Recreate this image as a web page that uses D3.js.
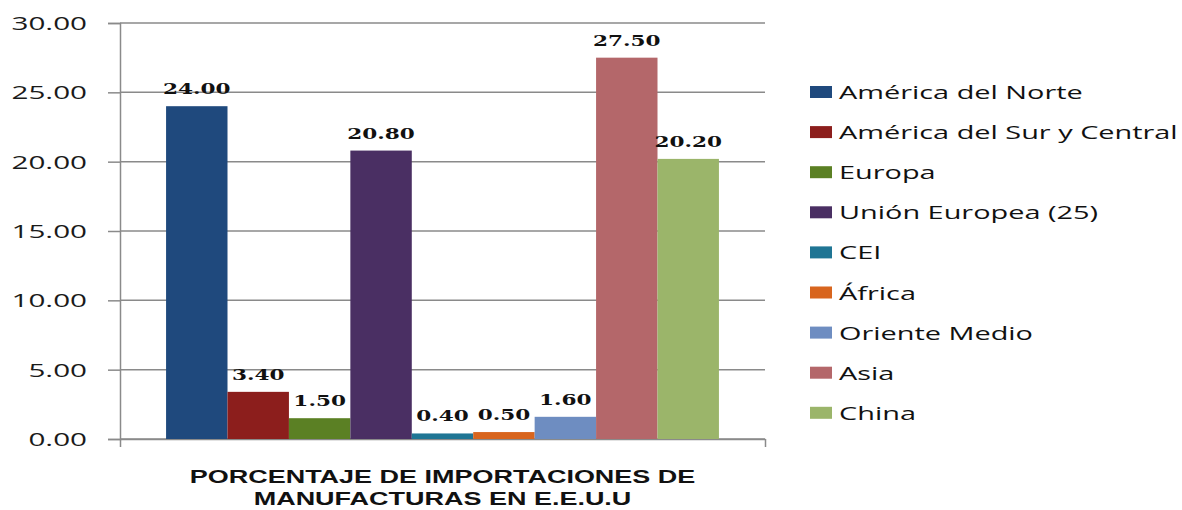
<!DOCTYPE html>
<html>
<head>
<meta charset="utf-8">
<script src="https://cdn.jsdelivr.net/npm/d3@7"></script>
<style>
  body { margin: 0; background: #fff; }
  svg { display: block; }
</style>
</head>
<body>
<script>
// data
const regions = ["América del Norte", "América del Sur y Central", "Europa", "Unión Europea (25)", "CEI", "África", "Oriente Medio", "Asia", "China"];
const values = [24.0, 3.4, 1.5, 20.8, 0.4, 0.5, 1.6, 27.5, 20.2];
const colors = ["#1F497D", "#8C1E1C", "#5B8024", "#4A2F63", "#1F7594", "#D8651E", "#6E8DC1", "#B4676A", "#9BB56A"];
const yTicks = [0, 5, 10, 15, 20, 25, 30];
const categoryLines = ["PORCENTAJE DE IMPORTACIONES DE", "MANUFACTURAS EN E.E.U.U"];

const W = 1182, H = 510;
const plot = {left: 120, right: 765, top: 23, bottom: 439};

const svg = d3.select("body").append("svg")
  .attr("width", W)
  .attr("height", H);

// the picture is stretched sideways, so the text is too
function stretch(sel, x, y, sx) {
  sel.attr("x", 0).attr("y", 0)
     .attr("transform", `translate(${x},${y}) scale(${sx},1)`);
}

const y = d3.scaleLinear().domain([0, 30]).range([plot.bottom, plot.top]);
const x = d3.scaleBand().domain(regions).range([plot.left, plot.right])
  .paddingInner(0).paddingOuter(0.75);

//gridlines
svg.append("g")
  .selectAll("line")
  .data(yTicks)
  .enter().append("line")
  .attr("x1", plot.left)
  .attr("x2", plot.right)
  .attr("y1", d => y(d))
  .attr("y2", d => y(d))
  .attr("stroke", "#8a8a8a")
  .attr("stroke-width", 1.5);

//Y axis
const tickSx = 1.56;
const yAxis = svg.append("g")
  .attr("transform", `translate(${plot.left},0)`)
  .call(d3.axisLeft(y).tickValues(yTicks).tickSize(12).tickFormat(d3.format(".2f")));
yAxis.select(".domain").attr("stroke", "#8a8a8a").attr("stroke-width", 1.5);
yAxis.selectAll(".tick line").attr("stroke", "#8a8a8a").attr("stroke-width", 1.5);
yAxis.selectAll(".tick text")
  .attr("font-family", "'Open Sans', sans-serif")
  .attr("font-size", 19)
  .attr("fill", "#1a1a1a")
  .attr("dy", "0.35em")
  .attr("x", -33 / tickSx)
  .attr("transform", `scale(${tickSx},1)`);

//X axis (single category, ticks at the edges)
const xEdge = d3.scaleLinear().domain([0, 1]).range([plot.left, plot.right]);
const xAxis = svg.append("g")
  .attr("transform", `translate(0,${plot.bottom})`)
  .call(d3.axisBottom(xEdge).tickValues([0, 1]).tickSize(8).tickSizeOuter(0).tickFormat(""));
xAxis.select(".domain").attr("stroke", "#8a8a8a").attr("stroke-width", 1.5);
xAxis.selectAll(".tick line").attr("stroke", "#8a8a8a").attr("stroke-width", 1.5);

//bars
svg.append("g")
  .selectAll("rect")
  .data(values)
  .enter().append("rect")
  .attr("x", (d, i) => x(regions[i]))
  .attr("y", d => y(d))
  .attr("width", x.bandwidth())
  .attr("height", d => y(0) - y(d))
  .attr("fill", (d, i) => colors[i]);

//value labels
svg.append("g")
  .selectAll("text")
  .data(values)
  .enter().append("text")
  .attr("text-anchor", "middle")
  .attr("font-family", "'DejaVu Serif', serif")
  .attr("font-weight", "bold")
  .attr("font-size", 15)
  .attr("fill", "#111")
  .text(d => d.toFixed(2))
  .each(function(d, i) {
    stretch(d3.select(this), x(regions[i]) + x.bandwidth() / 2, y(d) - 12, 1.44);
  });

//category label
const midX = (plot.left + plot.right) / 2;
svg.append("g")
  .selectAll("text")
  .data(categoryLines)
  .enter().append("text")
  .attr("text-anchor", "middle")
  .attr("font-family", "'Liberation Sans', Arial, sans-serif")
  .attr("font-weight", "bold")
  .attr("font-size", 19)
  .attr("fill", "#111")
  .text(d => d)
  .each(function(d, i) {
    stretch(d3.select(this), midX, 483 + i * 22, 1.42);
  });

//legend
const legend = svg.append("g")
  .attr("transform", "translate(810,92)");
const row = legend.selectAll("g")
  .data(regions)
  .enter().append("g")
  .attr("transform", (d, i) => `translate(0,${i * 40.1})`);
row.append("rect")
  .attr("x", 0)
  .attr("y", -6)
  .attr("width", 22)
  .attr("height", 12)
  .attr("fill", (d, i) => colors[i]);
row.append("text")
  .attr("font-family", "'Open Sans', sans-serif")
  .attr("font-size", 19)
  .attr("fill", "#111")
  .text(d => d)
  .each(function() {
    stretch(d3.select(this), 29, 7, 1.52);
  });
</script>
</body>
</html>
